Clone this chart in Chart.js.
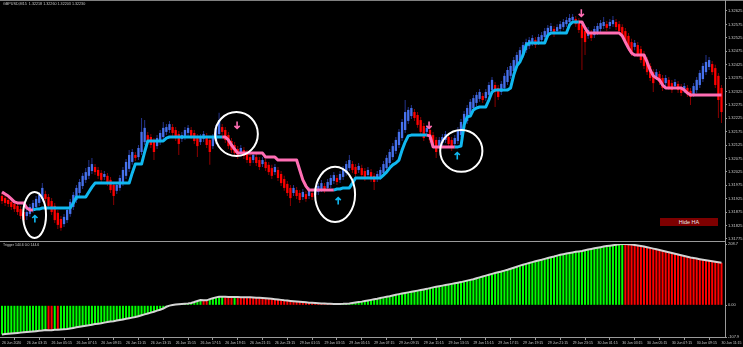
<!DOCTYPE html>
<html><head><meta charset="utf-8">
<script src="https://cdn.jsdelivr.net/npm/chart.js@4.4.1/dist/chart.umd.min.js"></script>
<style>
html,body{margin:0;padding:0;background:#000;width:743px;height:347px;overflow:hidden;}
#wrap{position:relative;width:743px;height:347px;background:#000;}
canvas{position:absolute;left:0;}
#top{top:0;width:743px;height:241px;}
#bot{top:236px;width:743px;height:111px;}
.ln{position:absolute;background:#9a9a9a;}
.lbl{position:absolute;color:#c8c8c8;font-family:'Liberation Sans',Arial,sans-serif;white-space:nowrap;}
#hide{position:absolute;left:660px;top:218px;width:58px;height:8px;background:#7d0000;color:#e6e6e6;font:5.5px 'Liberation Sans',Arial,sans-serif;line-height:8px;text-align:center;}
</style></head>
<body><div id="wrap">
<canvas id="top" width="743" height="241"></canvas>
<canvas id="bot" width="743" height="111"></canvas>
<div class="ln" style="left:0;top:0;width:743px;height:1px;background:#808080"></div>
<div class="ln" style="left:725px;top:0;width:1px;height:338px"></div>
<div class="ln" style="left:0;top:241px;width:725px;height:1px"></div>
<div class="ln" style="left:0;top:337px;width:726px;height:1px"></div>
<div class="lbl" style="left:3px;top:2px;font-size:3.7px">GBPUSD,M15&nbsp; 1.32218 1.32260 1.32203 1.32230</div>
<div class="lbl" style="left:3px;top:243px;font-size:3.5px">Trigger 144.6 0.0 144.6</div>
<div id="hide">Hide HA</div>
</div>
<script>
// ---------- DATA ----------
const timeLabels = ["26 Jun 2020","26 Jun 03:15","26 Jun 05:15","26 Jun 07:15","26 Jun 09:15","26 Jun 11:15","26 Jun 13:15","26 Jun 15:15","26 Jun 17:15","26 Jun 19:15","26 Jun 21:15","26 Jun 23:15","29 Jun 01:15","29 Jun 03:15","29 Jun 05:15","29 Jun 07:15","29 Jun 09:15","29 Jun 11:15","29 Jun 13:15","29 Jun 15:15","29 Jun 17:15","29 Jun 19:15","29 Jun 21:15","29 Jun 23:15","30 Jun 01:15","30 Jun 03:15","30 Jun 05:15","30 Jun 07:15","30 Jun 09:15","30 Jun 11:15"];
const barsPerLabel = 8;
const priceTicks = [1.31775,1.31825,1.31875,1.31925,1.31975,1.32025,1.32075,1.32125,1.32175,1.32225,1.32275,1.32325,1.32375,1.32425,1.32475,1.32525,1.32575,1.32625];
const triggerTicks = [208.7, 0, -107.9];

const haOpen = [1.31935,1.31927,1.31920,1.31913,1.31905,1.31898,1.31886,1.31875,1.31860,1.31868,
1.31883,1.31894,1.31909,1.31924,1.31942,1.31931,1.31916,1.31898,1.31872,1.31849,
1.31830,1.31845,1.31868,1.31894,1.31920,1.31946,1.31972,1.31995,1.32010,1.32028,
1.32043,1.32032,1.32021,1.32006,1.32010,1.31995,1.31976,1.31954,1.31965,1.31983,
1.32010,1.32036,1.32062,1.32088,1.32080,1.32099,1.32136,1.32162,1.32155,1.32140,
1.32121,1.32136,1.32155,1.32174,1.32181,1.32192,1.32181,1.32166,1.32148,1.32155,
1.32170,1.32181,1.32170,1.32155,1.32136,1.32148,1.32159,1.32144,1.32121,1.32140,
1.32166,1.32192,1.32181,1.32162,1.32140,1.32125,1.32110,1.32095,1.32106,1.32095,
1.32080,1.32069,1.32080,1.32069,1.32054,1.32062,1.32051,1.32039,1.32024,1.32032,
1.32017,1.31998,1.31980,1.31965,1.31946,1.31957,1.31946,1.31931,1.31942,1.31935,
1.31946,1.31939,1.31950,1.31961,1.31972,1.31965,1.31976,1.31991,1.32002,1.31995,
1.32006,1.32021,1.32039,1.32054,1.32043,1.32032,1.32039,1.32028,1.32013,1.32024,
1.32010,1.31998,1.32006,1.32021,1.32039,1.32058,1.32080,1.32103,1.32125,1.32151,
1.32181,1.32215,1.32233,1.32248,1.32237,1.32218,1.32196,1.32174,1.32181,1.32162,
1.32144,1.32121,1.32133,1.32144,1.32155,1.32144,1.32129,1.32140,1.32162,1.32189,
1.32215,1.32241,1.32263,1.32282,1.32297,1.32308,1.32300,1.32312,1.32330,1.32349,
1.32338,1.32323,1.32338,1.32360,1.32383,1.32401,1.32424,1.32442,1.32461,1.32479,
1.32494,1.32506,1.32517,1.32509,1.32517,1.32528,1.32539,1.32550,1.32558,1.32550,
1.32558,1.32565,1.32576,1.32584,1.32591,1.32595,1.32588,1.32573,1.32550,1.32532,
1.32543,1.32535,1.32547,1.32558,1.32569,1.32576,1.32569,1.32576,1.32584,1.32576,
1.32565,1.32550,1.32532,1.32509,1.32491,1.32498,1.32483,1.32465,1.32442,1.32420,
1.32397,1.32379,1.32390,1.32375,1.32356,1.32368,1.32356,1.32345,1.32353,1.32341,
1.32330,1.32338,1.32327,1.32315,1.32330,1.32349,1.32371,1.32397,1.32416,1.32427,
1.32412,1.32383,1.32338];

const haClose = [1.31916,1.31909,1.31905,1.31894,1.31886,1.31875,1.31860,1.31845,1.31875,1.31894,
1.31909,1.31924,1.31939,1.31965,1.31924,1.31898,1.31875,1.31845,1.31827,1.31816,
1.31857,1.31883,1.31913,1.31939,1.31965,1.31987,1.32010,1.32024,1.32043,1.32054,
1.32024,1.32010,1.31995,1.32017,1.31983,1.31957,1.31935,1.31976,1.32002,1.32032,
1.32062,1.32088,1.32099,1.32077,1.32114,1.32174,1.32189,1.32144,1.32125,1.32099,
1.32151,1.32170,1.32189,1.32192,1.32203,1.32170,1.32151,1.32129,1.32162,1.32181,
1.32189,1.32159,1.32140,1.32121,1.32155,1.32166,1.32125,1.32099,1.32155,1.32189,
1.32218,1.32174,1.32144,1.32121,1.32106,1.32095,1.32084,1.32114,1.32084,1.32069,
1.32058,1.32088,1.32058,1.32043,1.32069,1.32039,1.32024,1.32010,1.32043,1.32002,
1.31983,1.31965,1.31946,1.31927,1.31965,1.31935,1.31920,1.31950,1.31924,1.31957,
1.31931,1.31957,1.31972,1.31983,1.31957,1.31987,1.32002,1.32013,1.31987,1.32017,
1.32036,1.32054,1.32069,1.32032,1.32017,1.32047,1.32013,1.32002,1.32032,1.31998,
1.31987,1.32017,1.32032,1.32054,1.32077,1.32099,1.32121,1.32144,1.32174,1.32211,
1.32248,1.32256,1.32263,1.32226,1.32200,1.32174,1.32151,1.32189,1.32144,1.32125,
1.32099,1.32144,1.32155,1.32166,1.32129,1.32114,1.32151,1.32181,1.32211,1.32241,
1.32263,1.32286,1.32300,1.32312,1.32323,1.32293,1.32323,1.32349,1.32368,1.32323,
1.32304,1.32353,1.32383,1.32405,1.32420,1.32442,1.32461,1.32479,1.32498,1.32509,
1.32517,1.32524,1.32498,1.32528,1.32535,1.32550,1.32562,1.32569,1.32539,1.32565,
1.32576,1.32584,1.32591,1.32599,1.32603,1.32576,1.32554,1.32524,1.32509,1.32554,
1.32524,1.32558,1.32569,1.32580,1.32584,1.32562,1.32584,1.32591,1.32565,1.32550,
1.32532,1.32509,1.32487,1.32468,1.32506,1.32465,1.32442,1.32420,1.32397,1.32375,
1.32356,1.32397,1.32360,1.32338,1.32375,1.32341,1.32330,1.32360,1.32330,1.32319,
1.32345,1.32315,1.32304,1.32345,1.32368,1.32394,1.32420,1.32435,1.32442,1.32397,
1.32349,1.32293,1.32248];

const haHigh = [1.31946,1.31939,1.31931,1.31924,1.31916,1.31909,1.31898,1.31886,1.31886,1.31905,
1.31920,1.31935,1.31950,1.31983,1.31954,1.31942,1.31927,1.31909,1.31883,1.31860,
1.31868,1.31894,1.31924,1.31950,1.31976,1.31998,1.32021,1.32039,1.32069,1.32077,
1.32054,1.32043,1.32032,1.32028,1.32021,1.32006,1.31987,1.31987,1.32013,1.32043,
1.32073,1.32106,1.32110,1.32099,1.32125,1.32226,1.32218,1.32174,1.32166,1.32151,
1.32162,1.32181,1.32211,1.32203,1.32215,1.32203,1.32192,1.32177,1.32174,1.32192,
1.32200,1.32192,1.32181,1.32166,1.32166,1.32177,1.32170,1.32155,1.32166,1.32200,
1.32245,1.32203,1.32192,1.32174,1.32151,1.32136,1.32121,1.32125,1.32118,1.32106,
1.32092,1.32099,1.32092,1.32080,1.32080,1.32073,1.32062,1.32051,1.32054,1.32043,
1.32028,1.32010,1.31991,1.31976,1.31976,1.31968,1.31957,1.31961,1.31954,1.31968,
1.31957,1.31968,1.31983,1.31995,1.31983,1.31998,1.32013,1.32024,1.32013,1.32028,
1.32047,1.32065,1.32088,1.32065,1.32054,1.32058,1.32051,1.32039,1.32043,1.32036,
1.32021,1.32028,1.32043,1.32065,1.32088,1.32110,1.32133,1.32155,1.32185,1.32222,
1.32293,1.32267,1.32274,1.32259,1.32248,1.32230,1.32207,1.32200,1.32192,1.32174,
1.32155,1.32155,1.32166,1.32177,1.32166,1.32155,1.32162,1.32192,1.32222,1.32252,
1.32274,1.32297,1.32312,1.32323,1.32334,1.32319,1.32334,1.32360,1.32379,1.32360,
1.32349,1.32364,1.32394,1.32416,1.32431,1.32453,1.32472,1.32491,1.32509,1.32521,
1.32528,1.32535,1.32528,1.32539,1.32547,1.32562,1.32573,1.32580,1.32569,1.32576,
1.32588,1.32595,1.32603,1.32614,1.32614,1.32606,1.32599,1.32584,1.32562,1.32565,
1.32554,1.32569,1.32580,1.32591,1.32603,1.32588,1.32595,1.32606,1.32595,1.32588,
1.32576,1.32562,1.32543,1.32521,1.32517,1.32509,1.32494,1.32476,1.32453,1.32431,
1.32409,1.32409,1.32401,1.32386,1.32386,1.32379,1.32368,1.32371,1.32364,1.32353,
1.32356,1.32349,1.32338,1.32356,1.32379,1.32405,1.32431,1.32461,1.32453,1.32438,
1.32424,1.32394,1.32349];

const haLow = [1.31905,1.31898,1.31894,1.31883,1.31875,1.31864,1.31849,1.31834,1.31845,1.31857,
1.31872,1.31883,1.31898,1.31913,1.31913,1.31886,1.31864,1.31834,1.31812,1.31805,
1.31819,1.31834,1.31857,1.31883,1.31909,1.31935,1.31961,1.31983,1.31998,1.32017,
1.32013,1.31998,1.31983,1.31995,1.31972,1.31946,1.31901,1.31942,1.31954,1.31972,
1.31998,1.32024,1.32051,1.32065,1.32069,1.32088,1.32125,1.32133,1.32114,1.32069,
1.32110,1.32125,1.32144,1.32162,1.32170,1.32159,1.32140,1.32088,1.32136,1.32144,
1.32159,1.32148,1.32129,1.32080,1.32125,1.32136,1.32114,1.32051,1.32110,1.32129,
1.32155,1.32162,1.32133,1.32110,1.32095,1.32084,1.32073,1.32084,1.32073,1.32058,
1.32047,1.32058,1.32047,1.32032,1.32043,1.32028,1.32013,1.31998,1.32013,1.31991,
1.31972,1.31954,1.31935,1.31898,1.31935,1.31924,1.31909,1.31920,1.31913,1.31924,
1.31920,1.31927,1.31939,1.31950,1.31946,1.31954,1.31965,1.31980,1.31976,1.31983,
1.31995,1.32010,1.32028,1.32021,1.32006,1.32021,1.32002,1.31991,1.32002,1.31987,
1.31957,1.31987,1.31995,1.32010,1.32028,1.32047,1.32069,1.32092,1.32114,1.32140,
1.32170,1.32203,1.32222,1.32215,1.32189,1.32162,1.32140,1.32162,1.32133,1.32114,
1.32077,1.32110,1.32121,1.32133,1.32118,1.32103,1.32118,1.32129,1.32151,1.32177,
1.32203,1.32230,1.32252,1.32271,1.32286,1.32282,1.32289,1.32300,1.32319,1.32267,
1.32293,1.32312,1.32327,1.32349,1.32371,1.32390,1.32412,1.32431,1.32450,1.32468,
1.32483,1.32494,1.32487,1.32498,1.32506,1.32517,1.32528,1.32539,1.32528,1.32539,
1.32547,1.32554,1.32565,1.32573,1.32580,1.32565,1.32543,1.32405,1.32461,1.32521,
1.32513,1.32524,1.32535,1.32547,1.32558,1.32550,1.32558,1.32565,1.32554,1.32539,
1.32521,1.32498,1.32476,1.32457,1.32479,1.32453,1.32431,1.32409,1.32386,1.32364,
1.32323,1.32368,1.32349,1.32327,1.32345,1.32330,1.32319,1.32334,1.32319,1.32308,
1.32319,1.32304,1.32274,1.32304,1.32319,1.32338,1.32360,1.32386,1.32405,1.32386,
1.32338,1.32226,1.32207];

const trendLine = [1.31950,1.31942,1.31935,1.31924,1.31913,1.31909,1.31909,1.31909,1.31890,1.31883,
1.31883,1.31886,1.31886,1.31890,1.31890,1.31890,1.31890,1.31890,1.31890,1.31890,
1.31890,1.31890,1.31890,1.31909,1.31931,1.31931,1.31931,1.31931,1.31950,1.31968,
1.31983,1.31983,1.31983,1.31983,1.31983,1.31983,1.31983,1.31983,1.31983,1.31983,
1.31983,1.31983,1.32021,1.32054,1.32054,1.32054,1.32099,1.32140,1.32140,1.32140,
1.32140,1.32140,1.32140,1.32151,1.32155,1.32155,1.32155,1.32155,1.32155,1.32155,
1.32155,1.32155,1.32155,1.32155,1.32155,1.32155,1.32155,1.32155,1.32155,1.32155,
1.32155,1.32155,1.32155,1.32144,1.32125,1.32110,1.32095,1.32095,1.32095,1.32095,
1.32095,1.32095,1.32095,1.32095,1.32095,1.32080,1.32080,1.32080,1.32080,1.32069,
1.32069,1.32069,1.32069,1.32069,1.32069,1.32069,1.32032,1.31995,1.31972,1.31957,
1.31957,1.31957,1.31957,1.31957,1.31957,1.31957,1.31957,1.31957,1.31961,1.31961,
1.31965,1.31965,1.31965,1.31983,1.32002,1.32002,1.32002,1.32002,1.32002,1.32002,
1.32002,1.32002,1.32002,1.32013,1.32024,1.32039,1.32051,1.32058,1.32069,1.32106,
1.32136,1.32159,1.32162,1.32162,1.32162,1.32162,1.32162,1.32162,1.32159,1.32118,
1.32118,1.32118,1.32118,1.32118,1.32118,1.32118,1.32118,1.32118,1.32121,1.32200,
1.32230,1.32233,1.32256,1.32263,1.32267,1.32267,1.32267,1.32293,1.32323,1.32330,
1.32330,1.32330,1.32330,1.32330,1.32338,1.32386,1.32420,1.32435,1.32461,1.32498,
1.32506,1.32506,1.32506,1.32506,1.32506,1.32506,1.32535,1.32543,1.32543,1.32543,
1.32543,1.32543,1.32543,1.32573,1.32584,1.32584,1.32584,1.32584,1.32562,1.32543,
1.32543,1.32543,1.32543,1.32543,1.32543,1.32543,1.32543,1.32543,1.32543,1.32543,
1.32532,1.32509,1.32487,1.32468,1.32461,1.32461,1.32461,1.32461,1.32435,1.32405,
1.32383,1.32375,1.32368,1.32349,1.32338,1.32338,1.32338,1.32338,1.32338,1.32338,
1.32330,1.32319,1.32312,1.32312,1.32312,1.32312,1.32312,1.32312,1.32312,1.32312,
1.32312,1.32312,1.32312];
// bar index where the trend line changes colour
const trendSwitches = [[0,'dn'],[10,'up'],[71,'dn'],[107,'up'],[137,'dn'],[146,'up'],[186,'dn']];

const trigger = [-99,-98,-97,-96,-95,-94,-93,-92,-91,-90,
-89,-88,-87,-86,-84,-84.5,-85,-83,-83.5,-82,
-81.5,-81,-79,-77,-75,-73,-71,-69.5,-68,-66,
-64,-62.5,-61,-59,-57,-55.5,-54,-52,-50,-48,
-46,-44,-42,-40,-37,-34,-31,-28,-25,-22,
-18,-15,-11,-5,-1,1,2.5,3.5,4.5,5.5,
6.5,8,11,14.5,18,17.5,17,21,24,27,
29,29.5,29,28.5,28,28.3,28,27.7,27.5,27.2,
27,26.5,26,25.5,25,24,23,22,21,20,
18.5,17,16,15,14,13,12,11,10,9,
8.3,7.6,7,6.4,5.8,5.3,5,4.8,4.7,4.8,
5,5.5,6.5,8,9.5,11,12.5,14.5,16.5,18.5,
20.5,22.5,25,27,29,31,33.5,36,38,40,
42,44,46,48,50,52,54,56,58.5,61,
63,65,67,69,71,73,75,77,79,81.5,
84,86.5,89,92,95,98,101,104,107,110,
112.5,115,118,121,124.5,128,131.5,135,138,141,
144,147,150,152.5,155,158,161,163.5,166,169,
172,174,176,178,180,182,183.5,185,187.5,190,
192,194,196,198,200,201.5,203,204.5,206,207.5,
208.7,208.3,207.6,206.6,205.3,203.8,202,200,197.8,195.5,
193,190.5,188,185.5,183,180.5,178,175.5,173,170.5,
168,165.5,163,161,159,157,155.2,153.4,151.6,149.8,
148,146.3,144.6];

// annotations drawn by the trader (bar index / price units)
const ellipseBars = [10.5, 75.6, 107.4, 148.1];
const ellipsePrices = [1.31864, 1.32166, 1.31941, 1.32103];
const ellipseHalfBars = [3.7, 6.9, 6.45, 6.8];
const ellipseHalfPrices = [0.00086, 0.00082, 0.00103, 0.00078];
const arrowBars = [10.6, 75.8, 108.4, 137.7, 146.8, 186.8];
const arrowPrices = [1.31849, 1.32200, 1.31916, 1.32200, 1.32084, 1.32618];
const arrowDirs = ['up','dn','up','dn','up','dn'];

// ---------- STYLE ----------
const UP_BODY = '#4671ec', UP_WICK = '#24348c', DN_BODY = '#ff0000', DN_WICK = '#8b0000';
const TREND_UP = '#10b8f0', TREND_DN = '#ff6eb4';
const AXIS_TXT = '#c8c8c8', AXIS_LN = '#9a9a9a';
const X_MIN = -0.645, X_MAX = 233.13;
const P_MIN = 1.31767, P_MAX = 1.32666;
Chart.defaults.font.family = "'Liberation Sans', Arial, sans-serif";

function trendDirAt(i){ let d = trendSwitches[0][1]; for (const [s,dir] of trendSwitches) if (i >= s) d = dir; return d; }
const isUp = i => haClose[i] >= haOpen[i];
const fixWidth = s => { s.width = 18; s.paddingTop = 0; s.paddingBottom = 0; };

const annotate = {
  id: 'annotate',
  afterDatasetsDraw(chart){
    const {ctx, scales:{x, y}} = chart;
    ctx.save();
    ctx.strokeStyle = '#ffffff'; ctx.lineWidth = 2;
    ellipseBars.forEach((b,k) => {
      const cx = x.getPixelForValue(b), cy = y.getPixelForValue(ellipsePrices[k]);
      const rx = Math.abs(x.getPixelForValue(b + ellipseHalfBars[k]) - cx);
      const ry = Math.abs(y.getPixelForValue(ellipsePrices[k] + ellipseHalfPrices[k]) - cy);
      ctx.beginPath(); ctx.ellipse(cx, cy, rx, ry, 0, 0, Math.PI*2); ctx.stroke();
    });
    arrowBars.forEach((b,k) => {
      const ax = x.getPixelForValue(b), ay = y.getPixelForValue(arrowPrices[k]);
      const up = arrowDirs[k] === 'up', s = up ? -1 : 1;
      ctx.strokeStyle = up ? TREND_UP : TREND_DN; ctx.lineWidth = 1.6;
      ctx.beginPath();
      ctx.moveTo(ax, ay - s*3.5); ctx.lineTo(ax, ay + s*3.5);
      ctx.moveTo(ax - 2.6, ay + s*1); ctx.lineTo(ax, ay + s*3.5); ctx.lineTo(ax + 2.6, ay + s*1);
      ctx.stroke();
    });
    ctx.restore();
  }
};

new Chart(document.getElementById('top'), {
  type: 'bar',
  data: { datasets: [
    { type: 'line', order: 0, data: trendLine.map((v,i) => ({x: i, y: v})),
      borderColor: TREND_DN, borderWidth: 3, pointRadius: 0, tension: 0, borderJoinStyle: 'round',
      segment: { borderColor: c => trendDirAt(c.p0DataIndex) === 'up' ? TREND_UP : TREND_DN } },
    { type: 'bar', order: 1, grouped: false, barThickness: 2.3, inflateAmount: 0,
      data: haOpen.map((o,i) => ({x: i, y: [o, haClose[i]]})),
      backgroundColor: c => isUp(c.dataIndex) ? UP_BODY : DN_BODY },
    { type: 'bar', order: 2, grouped: false, barThickness: 1, inflateAmount: 0,
      data: haLow.map((l,i) => ({x: i, y: [l, haHigh[i]]})),
      backgroundColor: c => isUp(c.dataIndex) ? UP_WICK : DN_WICK }
  ]},
  options: {
    responsive: false, animation: false, events: [],
    layout: { padding: 0 },
    plugins: { legend: { display: false }, tooltip: { enabled: false } },
    scales: {
      x: { type: 'linear', min: X_MIN, max: X_MAX, offset: false, display: false },
      y: { position: 'right', min: P_MIN, max: P_MAX, afterFit: fixWidth,
           afterBuildTicks: s => { s.ticks = priceTicks.map(v => ({value: v})); },
           ticks: { callback: v => Number(v).toFixed(5), color: AXIS_TXT, font: { size: 4 }, padding: 1 },
           grid: { drawOnChartArea: false, color: AXIS_LN, tickLength: 2 },
           border: { display: false } }
    }
  },
  plugins: [annotate]
});

new Chart(document.getElementById('bot'), {
  type: 'bar',
  data: { datasets: [
    { type: 'line', order: 0, data: trigger.map((v,i) => ({x: i, y: v})),
      borderColor: '#d4d4d4', borderWidth: 2, pointRadius: 0, tension: 0 },
    { type: 'bar', order: 1, barThickness: 2, inflateAmount: 0,
      data: trigger.map((v,i) => ({x: i, y: v})),
      backgroundColor: c => (c.dataIndex === 0 || trigger[c.dataIndex] >= trigger[c.dataIndex-1]) ? '#00ff00' : '#ff0000' }
  ]},
  options: {
    responsive: false, animation: false, events: [],
    layout: { padding: { top: 8, left: 0, right: 0, bottom: 0 } },
    plugins: { legend: { display: false }, tooltip: { enabled: false } },
    scales: {
      x: { type: 'linear', min: X_MIN, max: X_MAX, offset: false,
           afterFit: s => { s.height = 10; s.paddingLeft = 0; s.paddingRight = 0; },
           afterBuildTicks: s => { s.ticks = timeLabels.map((_,k) => ({value: k*barsPerLabel})); },
           ticks: { callback: v => timeLabels[Math.round(v/barsPerLabel)], align: 'start', autoSkip: false,
                    maxRotation: 0, color: AXIS_TXT, font: { size: 3.5 }, padding: 1 },
           grid: { drawOnChartArea: false, color: AXIS_LN, tickLength: 3 },
           border: { display: false } },
      y: { position: 'right', min: triggerTicks[2], max: triggerTicks[0], afterFit: fixWidth,
           afterBuildTicks: s => { s.ticks = triggerTicks.map(v => ({value: v})); },
           ticks: { callback: v => v === 0 ? '0.00' : Number(v).toFixed(1), color: AXIS_TXT, font: { size: 4 }, padding: 1 },
           grid: { drawOnChartArea: false, color: AXIS_LN, tickLength: 2 },
           border: { display: false } }
    }
  }
});
</script>
</body></html>
